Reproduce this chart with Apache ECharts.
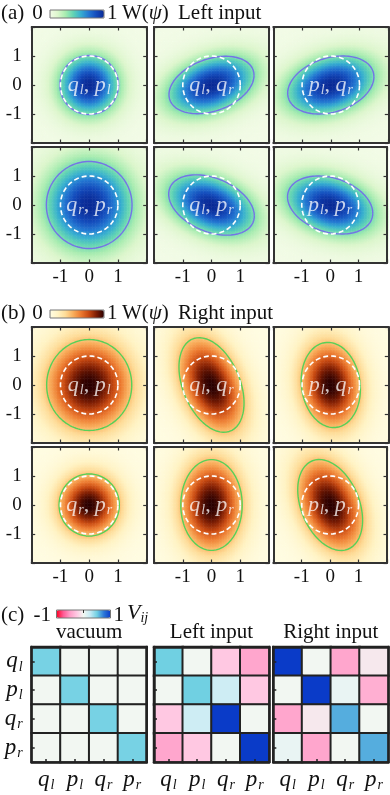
<!DOCTYPE html>
<html>
<head>
<meta charset="utf-8">
<style>
	html,body{margin:0;padding:0;background:#fff;}
	#main{width:390px;height:795px;}
</style>
<script src="https://cdn.jsdelivr.net/npm/echarts@6/dist/echarts.min.js"></script>
</head>
<body>
<div id="main"></div>
<script>
// subplot pair labels, row-major order (same for both panels)
var pairSym1 = ['q','q','p','q','q','p'];
var pairSub1 = ['l','l','l','r','l','l'];
var pairSym2 = ['p','q','q','p','p','p'];
var pairSub2 = ['l','r','r','r','r','r'];

// covariance of each ellipse (vacuum = 1)
var leftVarX  = [1.04, 2.19, 2.25, 2.22, 2.22, 2.25];
var leftVarY  = [1.04, 0.98, 1.00, 2.25, 1.08, 1.00];
var leftCovXY = [0, 0.49, 0.42, 0, -0.56, -0.42];
var rightVarX  = [2.19, 1.28, 1.06, 1.10, 1.14, 1.30];
var rightVarY  = [2.46, 2.66, 2.16, 1.15, 2.46, 2.46];
var rightCovXY = [0, -0.70, -0.15, 0, 0, -0.60];
var vacuumRadius = 1;

// covariance matrices V_ij, rows/cols: q_l p_l q_r p_r
var quadSym = ['q','p','q','p'];
var quadSub = ['l','l','r','r'];
var vacuumV = [[0.48,0,0,0],[0,0.48,0,0],[0,0,0.48,0],[0,0,0,0.48]];
var leftV   = [[0.5,0,-0.25,-0.45],[0,0.5,0.2,-0.25],[-0.25,0.2,1,0],[-0.45,-0.25,0,1]];
var rightV  = [[1,0,-0.45,-0.08],[0,1,0.05,-0.4],[-0.45,-0.08,0.6,0],[0.05,-0.45,0,0.6]];
var covTitles = ['vacuum','Left input','Right input'];

var cmapA = ['#f2fbe6','#dcf6cc','#a8ecb0','#62d4b4','#36aed0','#2478d2','#144cbc','#0a2a96'];
var cmapB = ['#fffce2','#fff3c4','#fedc98','#f9ae5c','#ec7a30','#c84a12','#7e1e04','#2a0000'];
var cmapC = ['#ff0022','#ff5a95','#ff9ec8','#ffc8e2','#f2f7f2','#c5eaf5','#70d0e2','#2c78d8','#0a3bc8'];

var FONT = "'Liberation Serif', 'DejaVu Serif', serif";
var BORDER = '#333';
var colX = [31.7, 154, 273.3], boxW = 115;
var rowTop = [27, 147, 327, 447], boxH = 116;
var covTop = 647, covH = 115;
var N = 72;

var cats = [], centers = [];
for(var i=0;i<N;i++){ cats.push(String(i)); centers.push(-2+(i+0.5)*4/N); }

var grids=[], xAxes=[], yAxes=[], series=[], heatA=[], heatB=[], heatC=[];

function valAxis(gi,pos,showLabel,isY){
	return {gridIndex:gi,type:'value',position:pos,min:-2,max:2,interval:1,z:10,
		axisLine:{show:true,onZero:false,lineStyle:{color:BORDER,width:2}},
		axisTick:{show:true,inside:true,length:3.5,lineStyle:{color:BORDER,width:1.2}},
		axisLabel:{show:showLabel,fontFamily:FONT,fontSize:19,color:'#111',margin:isY?10:5,
			formatter:function(v){return Math.abs(v)===2?'':String(v);}},
		splitLine:{show:false}};
}

var WHITE = 'rgba(255,255,255,0.95)';
var richSub = {
	m:{fontFamily:FONT,fontStyle:'italic',fontSize:22,color:WHITE},
	s:{fontFamily:FONT,fontStyle:'italic',fontSize:14,color:WHITE,padding:[10,0,0,1]},
	c:{fontFamily:FONT,fontSize:22,color:WHITE}
};

function wigner(panel,k,vx,vy,cxy,ellColor,heatList){
	var s = panel*6+k, r = panel*2+Math.floor(k/3), c = k%3;
	var hg = 2*s, og = 2*s+1;
	var rect = {left:colX[c],top:rowTop[r],width:boxW,height:boxH};
	grids.push(Object.assign({},rect), Object.assign({},rect));
	xAxes.push({gridIndex:hg,type:'category',data:cats,show:false});
	yAxes.push({gridIndex:hg,type:'category',data:cats,show:false});
	xAxes.push(valAxis(og,'bottom',r%2===1,false), valAxis(og,'top',false,false));
	yAxes.push(valAxis(og,'left',c===0,true), valAxis(og,'right',false,true));
	// colour field: gaussian of the same covariance, peak normalised to 1
	var det = vx*vy-cxy*cxy, data=[];
	for(var i=0;i<N;i++) for(var j=0;j<N;j++){
		var x=centers[i], y=centers[j];
		var q=(vy*x*x-2*cxy*x*y+vx*y*y)/det;
		data.push([i,j,Math.exp(-q)]);
	}
	heatList.push(series.length);
	series.push({type:'heatmap',xAxisIndex:3*s,yAxisIndex:3*s,data:data,progressive:0,silent:true});
	// contour of the state and vacuum reference
	var ell=[], vac=[], a=Math.sqrt(vx), l21=cxy/a, l22=Math.sqrt(vy-cxy*cxy/vx);
	for(var t=0;t<=120;t++){
		var th=t/120*2*Math.PI;
		ell.push([a*Math.cos(th), l21*Math.cos(th)+l22*Math.sin(th)]);
		vac.push([vacuumRadius*Math.cos(th), vacuumRadius*Math.sin(th)]);
	}
	series.push({type:'line',xAxisIndex:3*s+1,yAxisIndex:3*s+1,data:ell,showSymbol:false,symbol:'none',silent:true,z:5,
		lineStyle:{color:ellColor,width:1.4}});
	series.push({type:'line',xAxisIndex:3*s+1,yAxisIndex:3*s+1,data:vac,showSymbol:false,symbol:'none',silent:true,z:6,
		lineStyle:{color:'#fff',width:1.6,type:[5,3]}});
	series.push({type:'scatter',xAxisIndex:3*s+1,yAxisIndex:3*s+1,data:[[0,0]],symbolSize:0.1,silent:true,z:7,
		itemStyle:{color:'transparent'},
		label:{show:true,position:'inside',rich:richSub,
			formatter:'{m|'+pairSym1[k]+'}{s|'+pairSub1[k]+'}{c|, }{m|'+pairSym2[k]+'}{s|'+pairSub2[k]+'}'}});
}

for(var k=0;k<6;k++) wigner(0,k,leftVarX[k],leftVarY[k],leftCovXY[k],'#7474e6',heatA);
for(var k=0;k<6;k++) wigner(1,k,rightVarX[k],rightVarY[k],rightCovXY[k],'#58d058',heatB);

// covariance matrices
var quadLabels = quadSym.map(function(q,i){return '{m|'+q+'}{s|'+quadSub[i]+'}';});
var richQuad = {
	m:{fontFamily:FONT,fontStyle:'italic',fontSize:23,color:'#111'},
	s:{fontFamily:FONT,fontStyle:'italic',fontSize:14,color:'#111',padding:[11,0,0,1]}
};
[vacuumV,leftV,rightV].forEach(function(V,k){
	var gi = 24+k;
	grids.push({left:colX[k],top:covTop,width:boxW,height:covH});
	var line = {show:true,onZero:false,lineStyle:{color:'#222',width:2.5}};
	xAxes.push({gridIndex:gi,type:'category',data:quadLabels,position:'bottom',z:10,axisLine:line,
		axisTick:{show:true,inside:true,alignWithLabel:true,length:3,lineStyle:{color:'#222',width:1.5}},
		axisLabel:{margin:5,interval:0,rich:richQuad,formatter:function(v){return v;}}});
	xAxes.push({gridIndex:gi,type:'category',data:quadLabels,position:'top',z:10,axisLine:line,
		axisTick:{show:false},axisLabel:{show:false}});
	yAxes.push({gridIndex:gi,type:'category',data:quadLabels,position:'left',inverse:true,z:10,axisLine:line,
		axisTick:{show:true,inside:true,alignWithLabel:true,length:3,lineStyle:{color:'#222',width:1.5}},
		axisLabel:{show:k===0,margin:9,interval:0,rich:richQuad,formatter:function(v){return v;}}});
	yAxes.push({gridIndex:gi,type:'category',data:quadLabels,position:'right',inverse:true,z:10,axisLine:line,
		axisTick:{show:false},axisLabel:{show:false}});
	var data=[];
	for(var r=0;r<4;r++) for(var c=0;c<4;c++) data.push([c,r,V[r][c]]);
	heatC.push(series.length);
	series.push({type:'heatmap',xAxisIndex:36+2*k,yAxisIndex:36+2*k,data:data,silent:true,
		itemStyle:{borderColor:'#222',borderWidth:2}});
});

function txt(x,y,text,opt){
	var st = Object.assign({x:x,y:y,text:text,fill:'#111',fontFamily:FONT,fontSize:21,
		align:'left',verticalAlign:'middle',textAlign:'left',textVerticalAlign:'middle'},opt||{});
	if(opt && opt.align){st.textAlign=opt.align;}
	return {type:'text',style:st,silent:true};
}
function barFrame(x,y){
	return {type:'rect',shape:{x:x,y:y,width:54,height:8},style:{fill:'none',stroke:'#777',lineWidth:1},z:100,silent:true};
}
var richW = {u:{fontFamily:FONT,fontSize:21,color:'#111'},i:{fontFamily:FONT,fontStyle:'italic',fontSize:21,color:'#111'}};
var richV = {v:{fontFamily:FONT,fontStyle:'italic',fontSize:22,color:'#111'},s:{fontFamily:FONT,fontStyle:'italic',fontSize:14,color:'#111',padding:[10,0,0,0]}};
var graphics = [
	txt(1,13,'(a)'), txt(37.5,13,'0',{align:'center'}), barFrame(50,10), txt(107,13,'1'),
	txt(122,13,'{u|W(}{i|ψ}{u|)}',{rich:richW}), txt(178,13,'Left input'),
	txt(1,313,'(b)'), txt(37.5,313,'0',{align:'center'}), barFrame(50,310), txt(107,313,'1'),
	txt(122,313,'{u|W(}{i|ψ}{u|)}',{rich:richW}), txt(178,313,'Right input'),
	txt(1,615,'(c)'), txt(51,615,'-1',{align:'right'}), barFrame(56.5,610), txt(113.5,615,'1'),
	txt(127,613,'{v|V}{s|ij}',{rich:richV}),
	{type:'line',shape:{x1:83.5,y1:610,x2:83.5,y2:613},style:{stroke:'#333',lineWidth:1},z:101,silent:true}
];
covTitles.forEach(function(t,k){ graphics.push(txt(colX[k]+boxW/2,632,t,{align:'center'})); });

var vmBase = {type:'continuous',orient:'horizontal',calculable:false,itemWidth:8,itemHeight:54,padding:0,
	textStyle:{fontSize:0},hoverLink:false};
var chart = echarts.init(document.getElementById('main'),null,{renderer:'canvas'});
chart.setOption({
	animation:false,
	grid:grids, xAxis:xAxes, yAxis:yAxes,
	visualMap:[
		Object.assign({},vmBase,{min:0,max:1,left:50,top:10,seriesIndex:heatA,inRange:{color:cmapA}}),
		Object.assign({},vmBase,{min:0,max:1,left:50,top:310,seriesIndex:heatB,inRange:{color:cmapB}}),
		Object.assign({},vmBase,{min:-1,max:1,left:56.5,top:610,seriesIndex:heatC,inRange:{color:cmapC}})
	],
	graphic:graphics,
	series:series
});
</script>
</body>
</html>
